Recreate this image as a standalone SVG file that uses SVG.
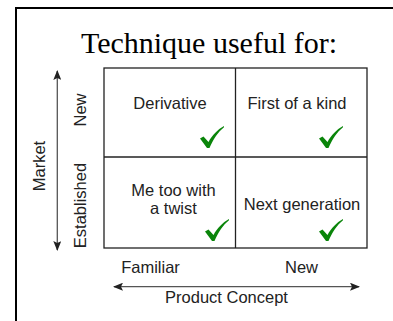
<svg xmlns="http://www.w3.org/2000/svg" width="393" height="321" viewBox="0 0 393 321">
<defs>
<style>
.t{font-family:"Liberation Sans",Arial,sans-serif;font-size:16.5px;fill:#222;text-anchor:middle}
.title{font-family:"Liberation Serif","Times New Roman",serif;font-size:30px;fill:#000;text-anchor:middle}
.grid{fill:none;stroke:#222;stroke-width:1.3}
.ax{fill:none;stroke:#555;stroke-width:1.3}
.chk{fill:#0a850a}
</style>
<marker id="ah" viewBox="0 0 10 8" refX="9" refY="4" markerWidth="10" markerHeight="8" markerUnits="userSpaceOnUse" orient="auto-start-reverse">
<path d="M0,0 L10,4 L0,8 L2,4 Z" fill="#222"/>
</marker>
<path id="check" d="M0,12.5 L3.5,10.5 L8.5,16 C12,9.5 17.5,3.5 24,0 L24,1.2 C18,6 13,13.5 9.5,22 L7,22 Z"/>
</defs>
<rect width="393" height="321" fill="#fff"/>
<path d="M16,330 V8 H400" fill="none" stroke="#000" stroke-width="2"/>
<text class="title" x="209" y="53">Technique useful for:</text>
<g id="grid">
<rect class="grid" x="104" y="68" width="263" height="180"/>
<line class="grid" x1="235.5" y1="68" x2="235.5" y2="248"/>
<line class="grid" x1="104" y1="157" x2="367" y2="157"/>
</g>
<g id="cell-derivative">
<text class="t" x="170" y="109">Derivative</text>
<use href="#check" class="chk" x="200" y="126"/>
</g>
<g id="cell-first">
<text class="t" x="297" y="109">First of a kind</text>
<use href="#check" class="chk" x="319" y="126"/>
</g>
<g id="cell-metoo">
<text class="t" x="173.5" y="196">Me too with</text>
<text class="t" x="173.5" y="214">a twist</text>
<use href="#check" class="chk" x="205" y="219"/>
</g>
<g id="cell-nextgen">
<text class="t" x="302" y="210">Next generation</text>
<use href="#check" class="chk" x="319" y="219"/>
</g>
<g id="connectors">
<line class="ax" x1="114" y1="286.7" x2="359" y2="286.7" marker-start="url(#ah)" marker-end="url(#ah)"/>
<line class="ax" x1="57.3" y1="71" x2="57.3" y2="250" marker-start="url(#ah)" marker-end="url(#ah)"/>
</g>
<g id="labels">
<text class="t" x="150.5" y="272.7">Familiar</text>
<text class="t" x="301.5" y="272.7">New</text>
<text class="t" x="226.5" y="302.7">Product Concept</text>
<text class="t" transform="translate(45,166) rotate(-90)">Market</text>
<text class="t" transform="translate(86,110) rotate(-90)">New</text>
<text class="t" transform="translate(86,205.5) rotate(-90)">Established</text>
</g>
</svg>
